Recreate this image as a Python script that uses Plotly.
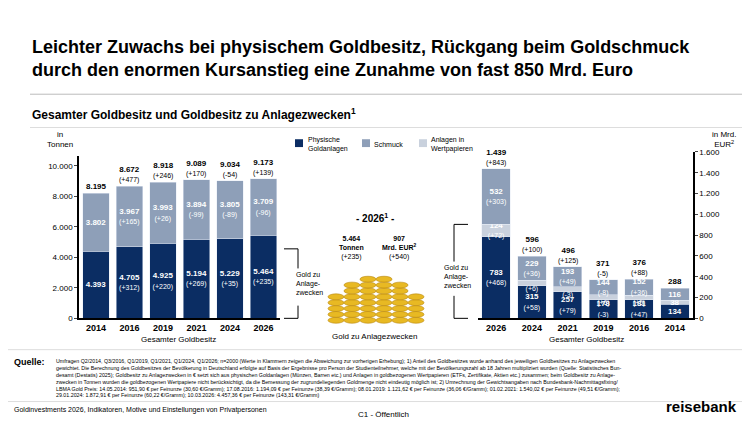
import plotly.graph_objects as go

# left chart: total gold holdings in tonnes
years_left = ["2014", "2016", "2019", "2021", "2024", "2026"]
phys_t = [4393, 4705, 4925, 5194, 5229, 5464]
phys_t_chg = ["", "(+312)", "(+220)", "(+269)", "(+35)", "(+235)"]
jewel_t = [3802, 3967, 3993, 3894, 3805, 3709]
jewel_t_chg = ["", "(+165)", "(+26)", "(-99)", "(-89)", "(-96)"]
total_t = [8195, 8672, 8918, 9089, 9034, 9173]
total_t_chg = ["", "(+477)", "(+246)", "(+170)", "(-54)", "(+139)"]

# right chart: value in Mrd. EUR
years_right = ["2026", "2024", "2021", "2019", "2016", "2014"]
phys_e = [783, 315, 257, 178, 181, 134]
phys_e_chg = ["(+468)", "(+58)", "(+79)", "(-3)", "(+47)", ""]
sec_e = [124, 52, 46, 49, 43, 38]
sec_e_chg = ["(+72)", "(+6)", "(-3)", "(+6)", "(+5)", ""]
jewel_e = [532, 229, 193, 144, 152, 116]
jewel_e_chg = ["(+303)", "(+36)", "(+49)", "(-8)", "(+36)", ""]
total_e = [1439, 596, 496, 371, 376, 288]
total_e_chg = ["(+843)", "(+100)", "(+125)", "(-5)", "(+88)", ""]

DARK, MID, LIGHT = "#0b2d63", "#8e9fb8", "#c9d1dd"
F = "Arial"

def fmt(v):
    return f"{v:,}".replace(",", ".")

def lab(vals, chg):
    return [f"<b>{fmt(v)}</b>" + (f"<br><span style='font-size:7px'>{c}</span>" if c else "") for v, c in zip(vals, chg)]

fig = go.Figure()
def bars(x, y, col, t, xa, ya):
    fig.add_trace(go.Bar(x=x, y=y, marker_color=col, text=t, textposition="inside",
                         insidetextanchor="middle", textangle=0, constraintext="none", cliponaxis=False,
                         textfont=dict(color="white", size=8, family=F), xaxis=xa, yaxis=ya))

bars(years_left, phys_t, DARK, lab(phys_t, phys_t_chg), "x", "y")
bars(years_left, jewel_t, MID, lab(jewel_t, jewel_t_chg), "x", "y")
bars(years_right, phys_e, DARK, lab(phys_e, phys_e_chg), "x2", "y2")
bars(years_right, sec_e, LIGHT, lab(sec_e, sec_e_chg), "x2", "y2")
bars(years_right, jewel_e, MID, lab(jewel_e, jewel_e_chg), "x2", "y2")

ann = []
# totals above bars (x as category index)
for i, (v, c) in enumerate(zip(total_t, total_t_chg)):
    ann.append(dict(x=i, y=v, xref="x", yref="y", yanchor="bottom", showarrow=False,
                    text=f"<b>{fmt(v)}</b>" + (f"<br><span style='font-size:7px'>{c}</span>" if c else ""),
                    font=dict(size=8, color="black", family=F)))
for i, (v, c) in enumerate(zip(total_e, total_e_chg)):
    ann.append(dict(x=i, y=v, xref="x2", yref="y2", yanchor="bottom", showarrow=False,
                    text=f"<b>{fmt(v)}</b>" + (f"<br><span style='font-size:7px'>{c}</span>" if c else ""),
                    font=dict(size=8, color="black", family=F)))

def txt(x, y, t, size=8, xa="left", ya="middle", **kw):
    ann.append(dict(x=x / 750, y=1 - y / 423, xref="paper", yref="paper", text=t, showarrow=False,
                    xanchor=xa, yanchor=ya, align=kw.pop("align", xa), font=dict(size=size, color="black", family=F), **kw))

txt(22, 48, "<b>Leichter Zuwachs bei physischem Goldbesitz, Rückgang beim Goldschmuck<br>durch den enormen Kursanstieg eine Zunahme von fast 850 Mrd. Euro</b>", 18)
txt(22, 104, "<b>Gesamter Goldbesitz und Goldbesitz zu Anlagezwecken<sup>1</sup></b>", 12)
txt(52, 130, "in<br>Tonnen", 8, xa="center")
txt(716, 130, "in Mrd.<br>EUR<sup>2</sup>", 8, xa="center")
txt(170, 335, "Gesamter Goldbesitz", 8, xa="center")
txt(578, 335, "Gesamter Goldbesitz", 8, xa="center")
txt(366, 332, "Gold zu Anlagezwecken", 8, xa="center")
txt(298, 135, "Physische<br>Goldanlagen", 7)
txt(364, 135, "Schmuck", 7)
txt(421, 135, "Anlagen in<br>Wertpapieren", 7)
txt(367, 210, "<b>- 2026<sup>1</sup> -</b>", 10, xa="center")
txt(343, 256, "<b>5.464<br>Tonnen</b><br>(+235)", 7, xa="center", ya="bottom")
txt(392, 256, "<b>907<br>Mrd. EUR<sup>2</sup></b><br>(+540)", 7, xa="center", ya="bottom")
txt(286, 277, "Gold zu<br>Anlage-<br>zwecken", 7)
txt(434, 270, "Gold zu<br>Anlage-<br>zwecken", 7)
txt(4, 358, "<b>Quelle:</b>", 9)
notes = ("Umfragen Q2/2014, Q3/2016, Q1/2019, Q1/2021, Q1/2024, Q1/2026; n=2000 (Werte in Klammern zeigen die Abweichung zur vorherigen Erhebung); 1) Anteil des Goldbesitzes wurde anhand des jeweiligen Goldbesitzes zu Anlagezwecken<br>"
         "gewichtet. Die Berechnung des Goldbesitzes der Bevölkerung in Deutschland erfolgte auf Basis der Ergebnisse pro Person der Studienteilnehmer, welche mit der Bevölkerungszahl ab 18 Jahren multipliziert wurden (Quelle: Statistisches Bun-<br>"
         "desamt (Destatis) 2025); Goldbesitz zu Anlagezwecken in € setzt sich aus physischen Goldanlagen (Münzen, Barren etc.) und Anlagen in goldbezogenen Wertpapieren (ETFs, Zertifikate, Aktien etc.) zusammen; beim Goldbesitz zu Anlage-<br>"
         "zwecken in Tonnen wurden die goldbezogenen Wertpapiere nicht berücksichtigt, da die Bemessung der zugrundeliegenden Goldmenge nicht eindeutig möglich ist; 2) Umrechnung der Gewichtsangaben nach Bundesbank-Nachmittagsfixing/<br>"
         "LBMA Gold Preis: 14.05.2014: 951,90 € per Feinunze (30,60 €/Gramm); 17.08.2016: 1.194,09 € per Feinunze (38,39 €/Gramm); 08.01.2019: 1.121,62 € per Feinunze (36,06 €/Gramm); 01.02.2021: 1.540,02 € per Feinunze (49,51 €/Gramm);<br>"
         "29.01.2024: 1.872,91 € per Feinunze (60,22 €/Gramm); 10.03.2026: 4.457,36 € per Feinunze (143,31 €/Gramm)")
txt(46, 351, notes, 5.3, ya="top")
txt(4, 407, "Goldinvestments 2026, Indikatoren, Motive und Einstellungen von Privatpersonen", 7)
txt(375, 411, "C1 - Öffentlich", 8, xa="center")
txt(656, 403, "<b>reisebank</b>", 15, xa="left")

shapes = []
def line(x0, y0, x1, y1, c="black", w=1):
    shapes.append(dict(type="line", xref="paper", yref="paper", x0=x0 / 750, x1=x1 / 750,
                       y0=1 - y0 / 423, y1=1 - y1 / 423, line=dict(color=c, width=w)))
def rect(x0, y0, x1, y1, c):
    shapes.append(dict(type="rect", xref="paper", yref="paper", x0=x0 / 750, x1=x1 / 750,
                       y0=1 - y0 / 423, y1=1 - y1 / 423, fillcolor=c, line_width=0))

line(22, 84, 742, 84, "#bbbbbb", 1)
line(22, 118, 742, 118, "#dddddd", 1)
line(0, 345, 750, 345, "#dddddd", 1)
line(0, 398, 750, 398, "#dddddd", 1)
rect(287, 130, 295, 138, DARK)
rect(354, 130, 362, 138, MID)
rect(411, 130, 419, 138, LIGHT)
# brackets
line(276, 242, 290, 242); line(290, 242, 290, 262); line(290, 300, 290, 313); line(276, 313, 290, 313)
line(446, 217, 460, 217); line(446, 217, 446, 255); line(446, 290, 446, 313); line(446, 313, 460, 313)
# gold coin stacks (decoration)
for cx, n in [(328, 5), (344, 7), (360, 8), (376, 8), (392, 7), (408, 5)]:
    for k in range(n):
        yb = 318 - k * 6
        shapes.append(dict(type="circle", xref="paper", yref="paper", x0=(cx - 8) / 750, x1=(cx + 8) / 750,
                           y0=1 - yb / 423, y1=1 - (yb - 6) / 423, fillcolor="#e8b923",
                           line=dict(color="#b8860b", width=0.6)))

ax = dict(showgrid=False, ticks="outside", ticklen=3, linecolor="black", linewidth=2,
          tickfont=dict(size=8, color="black", family=F))
xax = dict(type="category", range=[-0.5, 5.5], showline=True, linecolor="black", linewidth=2, ticks="",
           tickfont=dict(size=9, color="black", family=F, weight="bold"))
fig.update_layout(
    width=750, height=423, margin=dict(l=0, r=0, t=0, b=0), paper_bgcolor="white", plot_bgcolor="white",
    barmode="stack", bargap=0.2, showlegend=False, font=dict(family=F),
    xaxis=dict(domain=[0.095, 0.363], anchor="y", **xax),
    yaxis=dict(domain=[0.26, 0.652], range=[0, 10650], tickvals=[0, 2000, 4000, 6000, 8000, 10000],
               ticktext=["0", "2.000", "4.000", "6.000", "8.000", "10.000"], showline=True, anchor="x", **ax),
    xaxis2=dict(domain=[0.627, 0.913], anchor="y2", **xax),
    yaxis2=dict(domain=[0.26, 0.662], range=[0, 1600], side="right", anchor="x2", showline=True,
                tickvals=[0, 200, 400, 600, 800, 1000, 1200, 1400, 1600],
                ticktext=["0", "200", "400", "600", "800", "1.000", "1.200", "1.400", "1.600"], **ax),
    annotations=ann, shapes=shapes,
)
fig.write_html("out.html")
